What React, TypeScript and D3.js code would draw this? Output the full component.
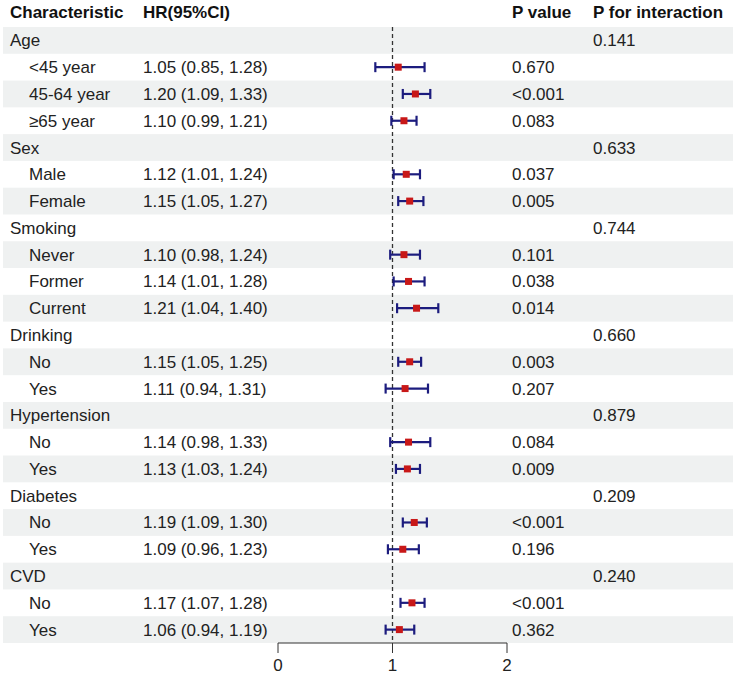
import * as d3 from "d3";

// one entry per table row; group rows have null estimates
const rowLabels = [
  "Age", "<45 year", "45-64 year", "≥65 year",
  "Sex", "Male", "Female",
  "Smoking", "Never", "Former", "Current",
  "Drinking", "No", "Yes",
  "Hypertension", "No", "Yes",
  "Diabetes", "No", "Yes",
  "CVD", "No", "Yes",
];
const isGroup = [
  true, false, false, false,
  true, false, false,
  true, false, false, false,
  true, false, false,
  true, false, false,
  true, false, false,
  true, false, false,
];
const hr = [
  null, 1.05, 1.2, 1.1,
  null, 1.12, 1.15,
  null, 1.1, 1.14, 1.21,
  null, 1.15, 1.11,
  null, 1.14, 1.13,
  null, 1.19, 1.09,
  null, 1.17, 1.06,
];
const ciLow = [
  null, 0.85, 1.09, 0.99,
  null, 1.01, 1.05,
  null, 0.98, 1.01, 1.04,
  null, 1.05, 0.94,
  null, 0.98, 1.03,
  null, 1.09, 0.96,
  null, 1.07, 0.94,
];
const ciHigh = [
  null, 1.28, 1.33, 1.21,
  null, 1.24, 1.27,
  null, 1.24, 1.28, 1.4,
  null, 1.25, 1.31,
  null, 1.33, 1.24,
  null, 1.3, 1.23,
  null, 1.28, 1.19,
];
const pValues = [
  "", "0.670", "<0.001", "0.083",
  "", "0.037", "0.005",
  "", "0.101", "0.038", "0.014",
  "", "0.003", "0.207",
  "", "0.084", "0.009",
  "", "<0.001", "0.196",
  "", "<0.001", "0.362",
];
const pInteraction = [
  "0.141", "", "", "",
  "0.633", "", "",
  "0.744", "", "", "",
  "0.660", "", "",
  "0.879", "", "",
  "0.209", "", "",
  "0.240", "", "",
];
const xTicks = [0, 1, 2];

const W = 738;
const H = 674;
const font = "'Liberation Sans', Arial, sans-serif";
const fs = 17;

export default function App() {
  const x = d3.scaleLinear().domain([0, 2]).range([278, 507]);
  const y = d3
    .scaleBand<number>()
    .domain(d3.range(rowLabels.length))
    .range([27, 643]);
  const bh = y.bandwidth();
  const fmt = d3.format(".2f");

  return (
    <svg
      width={W}
      height={H}
      style={{ position: "absolute", left: 0, top: 0, background: "#fff" }}
      fontFamily={font}
      fontSize={fs}
    >
      {/* header */}
      <g fontWeight="bold" fill="#111">
        <text x={10} y={18}>Characteristic</text>
        <text x={143} y={18}>HR(95%CI)</text>
        <text x={512} y={18}>P value</text>
        <text x={593} y={18}>P for interaction</text>
      </g>

      {/* zebra bands */}
      {rowLabels.map((_, i) =>
        i % 2 === 0 ? (
          <rect key={"b" + i} x={3} y={y(i)} width={730} height={bh} fill="#eff1f1" />
        ) : null
      )}

      {/* rows text */}
      {rowLabels.map((lab, i) => {
        const cy = (y(i) ?? 0) + bh / 2 + 6;
        return (
          <g key={"t" + i} fill="#222">
            <text x={isGroup[i] ? 10 : 29} y={cy}>{lab}</text>
            {hr[i] != null && (
              <text x={143} y={cy}>
                {`${fmt(hr[i]!)} (${fmt(ciLow[i]!)}, ${fmt(ciHigh[i]!)})`}
              </text>
            )}
            <text x={512} y={cy}>{pValues[i]}</text>
            <text x={593} y={cy}>{pInteraction[i]}</text>
          </g>
        );
      })}

      {/* reference line */}
      <line
        x1={x(1)}
        x2={x(1)}
        y1={27}
        y2={643}
        stroke="#333"
        strokeWidth={1.3}
        strokeDasharray="4,3"
      />

      {/* CI bars and points */}
      {rowLabels.map((_, i) => {
        if (hr[i] == null) return null;
        const cy = (y(i) ?? 0) + bh / 2;
        const x1 = x(ciLow[i]!);
        const x2 = x(ciHigh[i]!);
        return (
          <g key={"ci" + i}>
            <line x1={x1} x2={x2} y1={cy} y2={cy} stroke="#1c1c7e" strokeWidth={2.2} />
            <line x1={x1} x2={x1} y1={cy - 5} y2={cy + 5} stroke="#1c1c7e" strokeWidth={2.2} />
            <line x1={x2} x2={x2} y1={cy - 5} y2={cy + 5} stroke="#1c1c7e" strokeWidth={2.2} />
            <rect x={x(hr[i]!) - 3.5} y={cy - 3.5} width={7} height={7} fill="#c81818" />
          </g>
        );
      })}

      {/* x axis */}
      <g>
        <line x1={x(0)} x2={x(2)} y1={643} y2={643} stroke="#333" strokeWidth={1} />
        {xTicks.map((t) => (
          <g key={"x" + t}>
            <line x1={x(t)} x2={x(t)} y1={643} y2={653} stroke="#333" strokeWidth={1} />
            <text x={x(t)} y={671} textAnchor="middle" fill="#222">{t}</text>
          </g>
        ))}
      </g>
    </svg>
  );
}
